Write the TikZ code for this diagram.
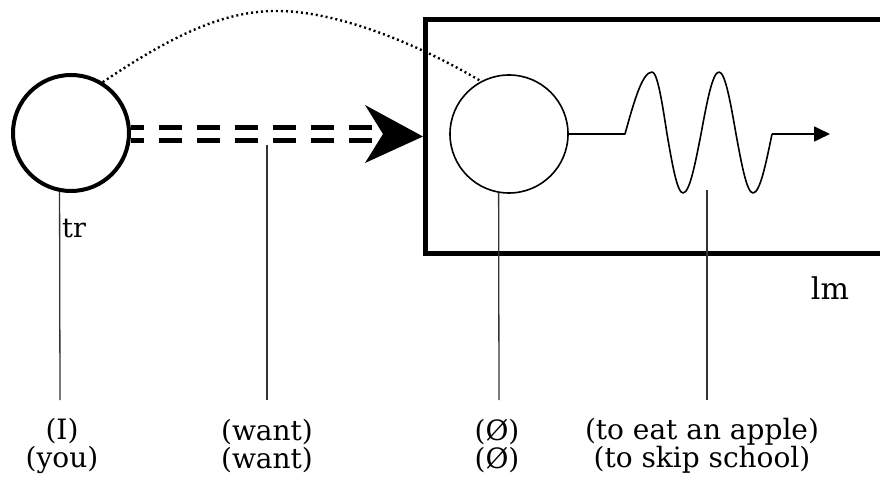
\documentclass[tikz,border=0pt]{standalone}
\usepackage{fontspec}
\setmainfont{DejaVu Serif}
\usetikzlibrary{arrows.meta}
\begin{document}
\begin{tikzpicture}[x=1pt,y=-1pt,
  thickcirc/.style={circle,draw,line width=4pt,minimum size=116pt,inner sep=0pt},
  thincirc/.style={circle,draw,line width=1.6pt,minimum size=118pt,inner sep=0pt},
  lmbox/.style={draw,line width=5pt,minimum width=520pt,minimum height=234pt,anchor=north west,inner sep=0pt},
  dashline/.style={line width=4.2pt,dash pattern=on 23pt off 15pt,dash phase=10pt},
  dotline/.style={line width=2.4pt,dash pattern=on 2pt off 3pt},
  guide/.style={line width=1.3pt,black!80},
  lbl/.style={font=\fontsize{28}{28.5}\selectfont,align=center,inner sep=0pt},
  tag/.style={font=\fontsize{27}{28}\selectfont,inner sep=0pt}]
\useasboundingbox (0,0) rectangle (880,481);
\clip (0,0) rectangle (880,481);
% nodes
\node[thickcirc] (c1) at (71,133) {};
\node[lmbox] (box) at (423,17) {};
\node[thincirc] (c2) at (509,134) {};
% dotted curve
\draw[dotline] (c1.58) .. controls (180,30) and (230,10) .. (280,11)
  .. controls (340,12) and (420,45) .. (c2.118);
% double dashed connector
\coordinate (ah) at (380,134);
\draw[dashline] (c1.east |- 0,127.5) -- (ah |- 0,127.5);
\draw[dashline] (c1.east |- 0,140.5) -- (ah |- 0,140.5);
\fill (box.west) -- (365,105) -- (383,134) -- (365,163) -- cycle;
% wave
\coordinate (w0) at (625,134);
\coordinate (wend) at (772,134);
\coordinate (tip) at (830,134);
\draw[line width=1.6pt,line join=round] (c2.east) -- (w0) sin (652,72) cos (667,134) sin (683,193)
  cos (701,134) sin (719,72) cos (736,134) sin (753,193) cos (wend);
\draw[line width=1.6pt,-{Triangle[length=16pt,width=15pt]}] (wend) -- (tip);
% guide lines
\coordinate (g1) at (60,400);
\coordinate (g2t) at (267,145);
\coordinate (g2) at (267,400);
\coordinate (g3) at (499,400);
\coordinate (g4t) at (707,190);
\coordinate (g4) at (707,400);
\draw[guide] (c1.259) -- (g1);
\draw[guide] (g2t) -- (g2);
\draw[guide] (c2.260) -- (g3);
\draw[guide] (g4t) -- (g4);
% labels
\node[tag,anchor=west] (tr) at (62,229) {tr};
\node[tag,font=\fontsize{30}{30}\selectfont] (lm) at (830,288) {lm};
\node[lbl] (t1) at (62,446) {(I)\\(you)};
\node[lbl] (t2) at (267,446) {(want)\\(want)};
\node[lbl] (t3) at (497,446) {(Ø)\\(Ø)};
\node[lbl] (t4) at (702,446) {(to eat an apple)\\(to skip school)};
\end{tikzpicture}
\end{document}
